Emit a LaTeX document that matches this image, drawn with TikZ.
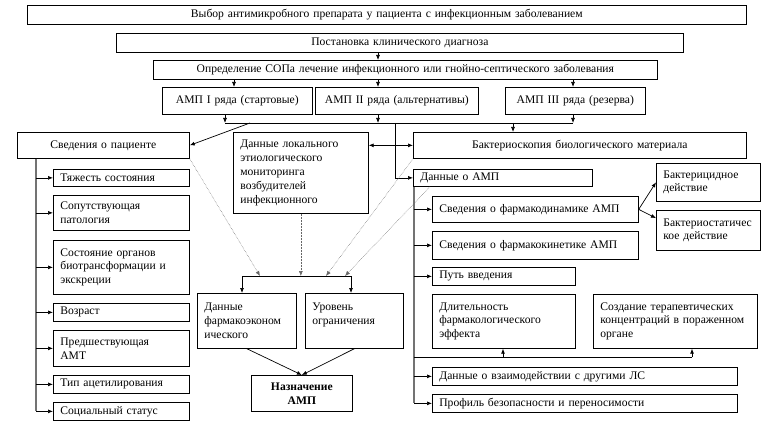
\documentclass[tikz,border=0pt]{standalone}
\usepackage{fontspec}
\setmainfont{Liberation Serif}
\usetikzlibrary{arrows.meta,calc}

\begin{document}
\begin{tikzpicture}[x=1pt, y=-1pt, line width=0.7pt,
    box/.style={draw, anchor=north west, inner xsep=7pt, inner ysep=0pt, align=left,
      font=\fontsize{11.6}{13.8}\selectfont},
    cbox/.style={box, align=center},
    arr/.style={-{Latex[length=5pt,width=4pt]}},
    arrs/.style={{Latex[length=5pt,width=4pt]}-{Latex[length=5pt,width=4pt]}},
    dot/.style={densely dotted, line width=0.5pt, draw=black!60, -{Latex[length=5pt,width=4pt]}},
    trunk/.style={draw=black!55, line width=1.3pt}]
    \useasboundingbox (0,0) rectangle (768,425);

    \node[cbox, text width=705, minimum height=19] (choice) at (27,5) {Выбор антимикробного препарата у пациента с инфекционным заболеванием};
    \node[cbox, text width=553, minimum height=19] (diag) at (116,33) {Постановка клинического диагноза};
    \node[cbox, text width=490, minimum height=19] (sopa) at (153,60) {Определение СОПа лечение инфекционного или гнойно-септического заболевания};
    \node[cbox, text width=136, minimum height=27] (amp1) at (162,87) {АМП I ряда (стартовые)};
    \node[cbox, text width=149, minimum height=27] (amp2) at (315,87) {АМП II ряда (альтернативы)};
    \node[cbox, text width=126, minimum height=27] (amp3) at (505,87) {АМП III ряда (резерва)};

    \node[cbox, text width=158, minimum height=26] (patient) at (17,132) {Сведения о пациенте};
    \node[box, text width=121, minimum height=81] (monit) at (233,132) {Данные локального\\этиологического\\мониторинга\\возбудителей\\инфекционного};
    \node[cbox, text width=319, minimum height=26] (bacter) at (413,132) {Бактериоскопия биологического материала};
    \node[box, text width=165, minimum height=17] (ampdata) at (413,169) {Данные о АМП};

    \node[box, text width=122, minimum height=17] (severe) at (53,169) {Тяжесть состояния};
    \node[box, text width=122, minimum height=35] (comorb) at (53,195) {Сопутствующая\\патология};
    \node[box, text width=122, minimum height=54] (organs) at (53,240) {Состояние органов\\биотрансформации и\\экскреции};
    \node[box, text width=122, minimum height=18] (age) at (53,303) {Возраст};
    \node[box, text width=122, minimum height=36] (prevamt) at (53,330) {Предшествующая\\АМТ};
    \node[box, text width=122, minimum height=18] (acetyl) at (53,375) {Тип ацетилирования};
    \node[box, text width=122, minimum height=18] (social) at (53,402) {Социальный статус};

    \node[box, text width=85, minimum height=55] (pharmec) at (197,293) {Данные\\фармакоэконом\\ического};
    \node[box, text width=84, minimum height=55] (limit) at (305,293) {Уровень\\ограничения\\\mbox{}};
    \node[cbox, text width=87, minimum height=36, font=\fontsize{11.6}{13.8}\selectfont\bfseries] (prescr) at (251,375) {Назначение\\АМП};

    \node[box, text width=192, minimum height=26] (pdyn) at (432,196) {Сведения о фармакодинамике АМП};
    \node[box, text width=192, minimum height=28] (pkin) at (432,231) {Сведения о фармакокинетике АМП};
    \node[box, text width=129, minimum height=18] (route) at (432,267) {Путь введения};
    \node[box, text width=129, minimum height=54] (durat) at (432,294) {Длительность\\фармакологического\\эффекта};
    \node[box, text width=150, minimum height=54] (concen) at (593,294) {Создание терапевтических\\концентраций в пораженном\\органе};
    \node[box, text width=291, minimum height=18] (interact) at (432,367) {Данные о взаимодействии с другими ЛС};
    \node[box, text width=291, minimum height=18] (safety) at (432,394) {Профиль безопасности и переносимости};
    \node[box, text width=90, minimum height=38] (bcidal) at (656,163) {Бактерицидное\\действие};
    \node[box, text width=90, minimum height=40] (bstatic) at (656,210) {Бактериостатичес\\кое действие};

    % top chain
    \coordinate (xa) at (234,0);
    \coordinate (xb) at (378,0);
    \coordinate (xc) at (573,0);
    \draw[arr] (diag.south -| xb) -- (sopa.north -| xb);
    \draw[arr] (sopa.south -| xa) -- (amp1.north -| xa);
    \draw[arr] (sopa.south -| xb) -- (amp2.north -| xb);
    \draw[arr] (sopa.south -| xc) -- (amp3.north -| xc);

    \coordinate (busL) at (225,123);
    \coordinate (busR) at (573,123);
    \coordinate (b1) at (250,123);
    \coordinate (b2) at (395,123);
    \coordinate (b3) at (513,123);
    \draw (busL) -- (busR);
    \draw[arr] (amp1.south -| busL) -- (busL);
    \draw[arr] (amp2.south -| xb) -- (busL -| xb);
    \draw[arr] (amp3.south -| busR) -- (busR);
    \draw[arr] (b1) -- (patient.east);
    \draw[arr] (b2) |- (ampdata.west);
    \draw[arr] (b3) -- (bacter.north -| b3);
    \draw[arrs] (monit.east |- bacter.west) -- (bacter.west);

    % patient column
    \coordinate (lx) at (36,0);
    \draw[trunk] (patient.south -| lx) -- (social.west -| lx);
    \foreach \n in {severe,comorb,organs,age,prevamt,acetyl,social}
      \draw[arr] (\n.west -| lx) -- (\n.west);

    % drug column
    \coordinate (rx) at (414,0);
    \draw[trunk] (ampdata.south -| rx) -- (safety.west -| rx);
    \foreach \n in {pdyn,pkin,route,interact,safety}
      \draw[arr] (\n.west -| rx) -- (\n.west);
    \coordinate (e1) at (503,357);
    \coordinate (e2) at (692,357);
    \draw (e1 -| rx) -- (e2);
    \draw[arr] (e1) -- (durat.south -| e1);
    \draw[arr] (e2) -- (concen.south -| e2);
    \draw[arr] (pdyn.east) -- (bcidal.west);
    \draw[arr] (pdyn.east) -- ($(bstatic.north west)!0.2!(bstatic.south west)$);

    % collector
    \coordinate (cL) at (242,276);
    \coordinate (cR) at (351,276);
    \coordinate (d1) at (260,276);
    \coordinate (d3) at (326,276);
    \coordinate (d4) at (345,276);
    \draw (cL) -- (cR);
    \draw[arr] (cL) -- (pharmec.north -| cL);
    \draw[arr] (cR) -- (limit.north -| cR);
    \draw[dot] (patient.south east) -- (d1);
    \draw[dot] (monit.south) -- (monit.south |- cL);
    \draw[dot] (bacter.south west) -- (d3);
    \draw[dot] ($(ampdata.south west)+(17,0)$) -- (d4);
    \draw[arr] (pharmec.south) -- (prescr.north);
    \draw[arr] (limit.south) -- (prescr.north);
\end{tikzpicture}
\end{document}
